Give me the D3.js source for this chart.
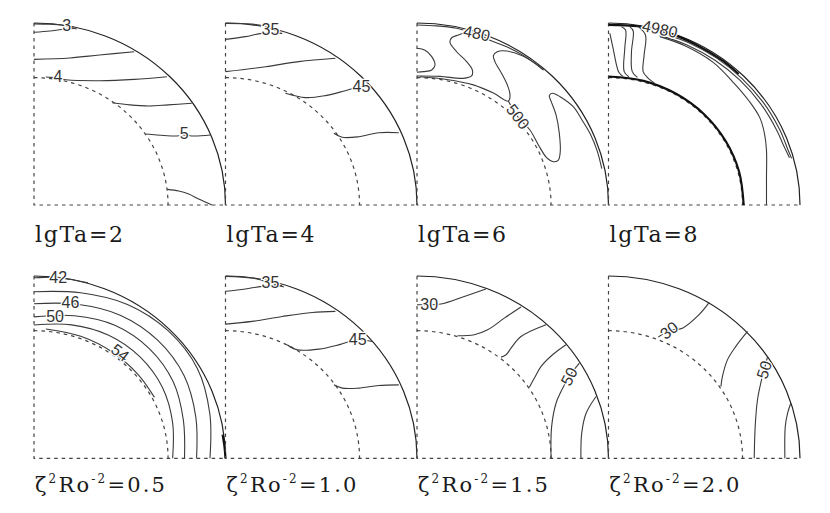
<!DOCTYPE html>
<html>
<head>
<meta charset="utf-8">
<script src="https://cdn.jsdelivr.net/npm/d3@7"></script>
<style>
  body { margin: 0; background: #fff; }
  svg { display: block; }
  .dash { fill: none; stroke: #444; stroke-width: 1.2; stroke-dasharray: 3.5 4; }
  .outer { fill: none; stroke: #222; stroke-width: 1.2; }
  .cont { fill: none; stroke: #3a3a3a; stroke-width: 1.1; }
  .heavy { stroke: #111; stroke-width: 2.2; }
  .lbl { font-family: "Liberation Sans", Arial, sans-serif; font-size: 16px; fill: #333;
         stroke: #fff; stroke-width: 2.5px; paint-order: stroke; }
  .ttl { font-family: "DejaVu Serif", "Liberation Serif", serif; fill: #1a1a1a; }
</style>
</head>
<body>
<svg width="830" height="513"></svg>
<script>
// panel parameters
var lgTaValues = ["2", "4", "6", "8"];
var zetaValues = ["0.5", "1.0", "1.5", "2.0"];

// contours: [s, z] with s = horizontal, z = vertical, both in units of outer radius
var lgTa2 = [
  [[0,0.995],[0.083,0.993],[0.145,0.989],[0.197,0.975],[0.223,0.967]],
  [[0,0.949],[0.083,0.956],[0.145,0.964],[0.212,0.97]],
  [[0,0.8],[0.187,0.808],[0.342,0.824],[0.523,0.842]],
  [[0.062,0.703],[0.093,0.701],[0.166,0.688],[0.342,0.683],[0.523,0.69],[0.694,0.705]],
  [[0.409,0.562],[0.5,0.55],[0.601,0.544],[0.7,0.55],[0.824,0.559]],
  [[0.584,0.39],[0.679,0.382],[0.739,0.379],[0.782,0.385],[0.834,0.379],[0.921,0.385]],
  [[0.696,0.086],[0.756,0.077],[0.808,0.06],[0.86,0.033],[0.929,0]]
];
var lgTa2Labels = [["3",0.171,0.985,0],["4",0.125,0.705,0],["5",0.784,0.395,0]];

var lgTa4 = [
  [[0,0.998],[0.104,0.996],[0.183,0.987],[0.287,0.949]],
  [[0,0.91],[0.104,0.925],[0.191,0.943],[0.296,0.943]],
  [[0,0.733],[0.209,0.76],[0.383,0.788],[0.574,0.806]],
  [[0.313,0.614],[0.418,0.59],[0.522,0.601],[0.626,0.628],[0.705,0.65],[0.766,0.647]],
  [[0.566,0.394],[0.609,0.372],[0.696,0.375],[0.8,0.397],[0.905,0.397]]
];
var lgTa4Labels = [["35",0.235,0.962,0],["45",0.71,0.652,0]];

var lgTa6 = [
  [[0,0.989],[0.103,0.984],[0.207,0.971],[0.242,0.962]],
  [[0,0.709],[0.12,0.707],[0.242,0.696],[0.285,0.709],[0.289,0.742],[0.259,0.788],[0.207,0.842],
   [0.172,0.894],[0.181,0.919],[0.216,0.934],[0.242,0.943],[0.312,0.94],[0.381,0.905],[0.468,0.87],
   [0.555,0.822],[0.625,0.772],[0.66,0.742]],
  [[0,0.861],[0.042,0.85],[0.077,0.815],[0.094,0.769],[0.077,0.742],[0.033,0.733],[0,0.729]],
  [[0.016,0.705],[0.155,0.69],[0.294,0.66],[0.399,0.615],[0.477,0.571],[0.486,0.604],[0.472,0.659],
   [0.442,0.723],[0.407,0.788],[0.399,0.821],[0.419,0.842],[0.468,0.846],[0.547,0.821],[0.616,0.778],[0.66,0.742]],
  [[0.477,0.571],[0.526,0.485],[0.59,0.412],[0.634,0.33],[0.677,0.26],[0.712,0.238],[0.738,0.247],
   [0.748,0.293],[0.742,0.403],[0.726,0.495],[0.7,0.571],[0.691,0.601],[0.708,0.614],[0.747,0.595],
   [0.816,0.54],[0.86,0.47],[0.905,0.39],[0.94,0.3],[0.965,0.2]]
];
var lgTa6Labels = [["480",0.312,0.943,12],["500",0.526,0.485,52]];

var lgTa8 = [
  [[0,0.99],[0.155,0.982],[0.3,0.95],[0.45,0.885],[0.6,0.79],[0.68,0.72]],
  [[0.238,0.956],[0.416,0.893],[0.565,0.807],[0.696,0.696],[0.807,0.565],[0.893,0.416],[0.937,0.304],[0.956,0.256]],
  [[0.267,0.932],[0.41,0.879],[0.556,0.795],[0.686,0.686],[0.795,0.556],[0.879,0.41],[0.912,0.332],[0.945,0.26]],
  [[0.268,0.925],[0.399,0.875],[0.545,0.785],[0.655,0.67],[0.735,0.57],[0.79,0.48],[0.815,0.39],[0.825,0.3],[0.825,0.15],[0.825,0]],
  [[0,0.706],[0.183,0.682],[0.353,0.611],[0.499,0.499],[0.611,0.353],[0.682,0.183],[0.706,0]],
  [[0.007,0.943],[0.024,0.861],[0.042,0.769],[0.054,0.729],[0.077,0.705]],
  [[0.068,0.98],[0.089,0.962],[0.085,0.861],[0.082,0.733],[0.106,0.705]],
  [[0.111,0.98],[0.129,0.956],[0.12,0.842],[0.124,0.733],[0.151,0.701]],
  [[0.155,0.98],[0.193,0.934],[0.186,0.824],[0.181,0.733],[0.204,0.7],[0.242,0.668]]
];
var lgTa8Labels = [["4980",0.268,0.967,12]];

var zeta05 = [
  [[0,0.99],[0.083,0.994],[0.126,0.993],[0.187,0.982],[0.282,0.963]],
  [[0,0.914],[0.243,0.908],[0.488,0.844],[0.7,0.7],[0.853,0.493],[0.918,0.246],[0.919,0]],
  [[0,0.848],[0.226,0.845],[0.453,0.784],[0.647,0.647],[0.784,0.453],[0.845,0.226],[0.849,0]],
  [[0,0.776],[0.21,0.782],[0.422,0.73],[0.602,0.602],[0.727,0.42],[0.78,0.209],[0.786,0]],
  [[0,0.731],[0.196,0.732],[0.39,0.675],[0.555,0.555],[0.671,0.388],[0.724,0.194],[0.724,0]],
  [[0.062,0.709],[0.244,0.669],[0.408,0.583],[0.545,0.458],[0.629,0.334]],
  [[0.985,0.13],[0.995,0.06],[1.0,0]]
];
var zeta05Labels = [["42",0.126,0.993,0],["46",0.19,0.853,0],["50",0.11,0.78,0],["54",0.45,0.58,38]];

var zeta10 = [
  [[0,0.998],[0.139,0.989],[0.191,0.976],[0.235,0.962],[0.305,0.94]],
  [[0,0.916],[0.104,0.929],[0.191,0.943],[0.296,0.947]],
  [[0,0.736],[0.139,0.751],[0.296,0.778],[0.453,0.8],[0.574,0.806]],
  [[0.322,0.623],[0.374,0.595],[0.487,0.599],[0.6,0.625],[0.688,0.65],[0.766,0.641]],
  [[0.566,0.403],[0.609,0.385],[0.696,0.385],[0.8,0.399],[0.905,0.403]]
];
var zeta10Labels = [["35",0.235,0.962,0],["45",0.69,0.65,0]];

var zeta15 = [
  [[0,0.842],[0.064,0.842],[0.125,0.846],[0.247,0.888],[0.36,0.929]],
  [[0.212,0.672],[0.299,0.678],[0.369,0.705],[0.456,0.769],[0.543,0.83]],
  [[0.439,0.555],[0.465,0.568],[0.491,0.604],[0.543,0.668],[0.674,0.733]],
  [[0.587,0.39],[0.613,0.44],[0.648,0.504],[0.708,0.568],[0.778,0.623]],
  [[0.7,0],[0.703,0.174],[0.726,0.302],[0.752,0.366],[0.795,0.449],[0.848,0.522]],
  [[0.856,0],[0.86,0.137],[0.883,0.247],[0.935,0.339]]
];
var zeta15Labels = [["30",0.064,0.842,0],["50",0.795,0.449,-62]];

var zeta20 = [
  [[0.26,0.665],[0.317,0.701],[0.386,0.714],[0.473,0.788],[0.526,0.855]],
  [[0.587,0.394],[0.595,0.449],[0.621,0.54],[0.665,0.614],[0.726,0.696]],
  [[0.761,0],[0.766,0.174],[0.778,0.321],[0.795,0.412],[0.813,0.485],[0.83,0.555]],
  [[0.921,0],[0.923,0.174],[0.935,0.247],[0.952,0.302]]
];
var zeta20Labels = [["30",0.317,0.701,-38],["50",0.813,0.485,-72]];

var innerRadius = 0.7;

var panels = [
  {row: 0, col: 0, lines: lgTa2,  labels: lgTa2Labels,  top: lgTaValues[0]},
  {row: 0, col: 1, lines: lgTa4,  labels: lgTa4Labels,  top: lgTaValues[1]},
  {row: 0, col: 2, lines: lgTa6,  labels: lgTa6Labels,  top: lgTaValues[2]},
  {row: 0, col: 3, lines: lgTa8,  labels: lgTa8Labels,  top: lgTaValues[3], heavy: [0, 4]},
  {row: 1, col: 0, lines: zeta05, labels: zeta05Labels, zeta: zetaValues[0], heavy: [6]},
  {row: 1, col: 1, lines: zeta10, labels: zeta10Labels, zeta: zetaValues[1]},
  {row: 1, col: 2, lines: zeta15, labels: zeta15Labels, zeta: zetaValues[2]},
  {row: 1, col: 3, lines: zeta20, labels: zeta20Labels, zeta: zetaValues[3]}
];

var svg = d3.select("svg");
var colX = d3.scaleLinear().domain([0, 4]).range([34, 800]);
var rowY = [[23, 205], [276, 458.3]];
var titleY = [242, 492];

panels.forEach(function (p) {
  var x = d3.scaleLinear().domain([0, 1]).range([colX(p.col), colX(p.col + 1)]);
  var y = d3.scaleLinear().domain([0, 1]).range([rowY[p.row][1], rowY[p.row][0]]);
  var rx = x(1) - x(0), ry = y(0) - y(1);
  var g = svg.append("g");

  // axes of the quadrant
  g.append("path").attr("class", "dash")
    .attr("d", "M" + x(0) + "," + y(1) + "V" + y(0) + "H" + x(1));
  // inner sphere (dashed) and outer sphere
  g.append("path").attr("class", "dash")
    .attr("d", "M" + x(0) + "," + y(innerRadius) + "A" + rx * innerRadius + "," + ry * innerRadius +
      " 0 0 1 " + x(innerRadius) + "," + y(0));
  g.append("path").attr("class", "outer")
    .attr("d", "M" + x(0) + "," + y(1) + "A" + rx + "," + ry + " 0 0 1 " + x(1) + "," + y(0));

  var line = d3.line()
    .x(function (d) { return x(d[0]); })
    .y(function (d) { return y(d[1]); })
    .curve(d3.curveCatmullRom.alpha(0.5));

  g.selectAll("path.cont")
    .data(p.lines)
    .enter().append("path")
    .attr("class", function (d, i) { return (p.heavy && p.heavy.indexOf(i) >= 0) ? "cont heavy" : "cont"; })
    .attr("d", line);

  g.selectAll("text.lbl")
    .data(p.labels)
    .enter().append("text")
    .attr("class", "lbl")
    .attr("text-anchor", "middle")
    .attr("dominant-baseline", "central")
    .attr("transform", function (d) { return "translate(" + x(d[1]) + "," + y(d[2]) + ") rotate(" + d[3] + ")"; })
    .text(function (d) { return d[0]; });

  // panel title
  var t = g.append("text").attr("class", "ttl")
    .attr("x", x(0) + 1).attr("y", titleY[p.row]);
  if (p.row === 0) {
    t.attr("font-size", 22).attr("textLength", 88).attr("lengthAdjust", "spacing")
      .text("lgTa=" + p.top);
  } else {
    t.attr("font-size", 21).attr("letter-spacing", "2.2px");
    t.append("tspan").text("ζ");
    t.append("tspan").attr("dy", -9).attr("font-size", 12).text("2");
    t.append("tspan").attr("dy", 9).text("Ro");
    t.append("tspan").attr("dy", -9).attr("font-size", 12).text("-2");
    t.append("tspan").attr("dy", 9).text("=" + p.zeta);
  }
});
</script>
</body>
</html>
